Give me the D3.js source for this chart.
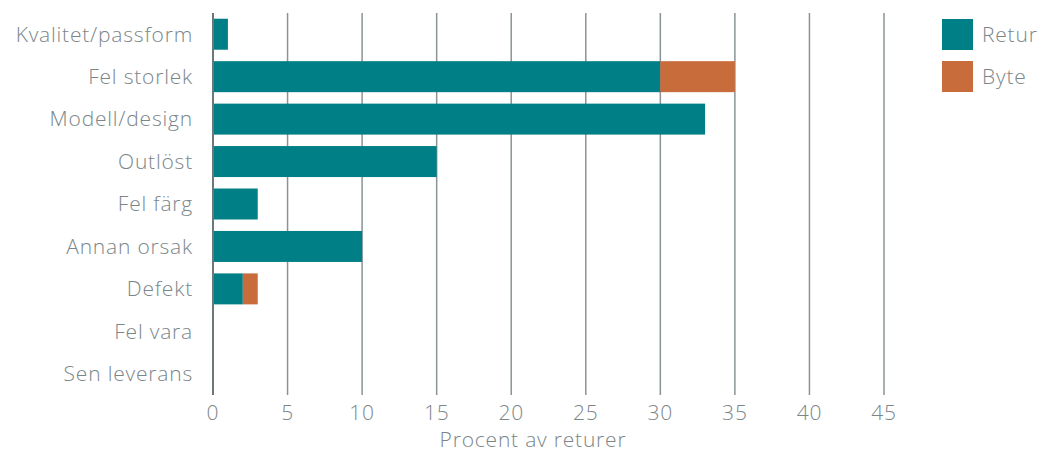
<!DOCTYPE html>
<html>
<head>
  <meta charset="utf-8">
  <script src="https://cdn.jsdelivr.net/npm/d3@7"></script>
  <style>
    body { margin: 0; background: #fff; }
    svg text { font-family: "Open Sans", Lato, sans-serif; font-weight: 300; fill: #7b8689; letter-spacing: 0.8px; }
  </style>
</head>
<body>
  <svg id="chart" width="1043" height="453"></svg>
  <script>
    var categories = ['Kvalitet/passform', 'Fel storlek', 'Modell/design', 'Outlöst', 'Fel färg', 'Annan orsak', 'Defekt', 'Fel vara', 'Sen leverans'];
    var retur = [1, 30, 33, 15, 3, 10, 2, 0, 0];
    var byte = [0, 5, 0, 0, 0, 0, 1, 0, 0];
    var ticks = [0, 5, 10, 15, 20, 25, 30, 35, 40, 45];
    var seriesNames = ['Retur', 'Byte'];
    var colors = ['#007f86', '#c96c3c'];

    var svg = d3.select('#chart');
    var plotLeft = 213, plotRight = 884, plotTop = 13, plotBottom = 395;

    var x = d3.scaleLinear().domain([0, 45]).range([plotLeft, plotRight]);
    var y = d3.scaleBand().domain(categories).range([plotTop, plotBottom]).paddingInner(0.27).paddingOuter(0.135);

    // gridlines
    svg.append('g').selectAll('line')
      .data(ticks.slice(1))
      .enter().append('line')
      .attr('x1', d => x(d)).attr('x2', d => x(d))
      .attr('y1', plotTop).attr('y2', plotBottom)
      .attr('stroke', '#8a9497').attr('stroke-width', 1.5);

    var rows = categories.map((c, i) => ({ cat: c, retur: retur[i], byte: byte[i] }));
    var stack = d3.stack().keys(['retur', 'byte'])(rows);

    svg.append('g').selectAll('g')
      .data(stack)
      .enter().append('g')
      .attr('fill', (d, i) => colors[i])
      .selectAll('rect')
      .data(d => d)
      .enter().append('rect')
      .attr('x', d => x(d[0]))
      .attr('width', d => x(d[1]) - x(d[0]))
      .attr('y', d => y(d.data.cat))
      .attr('height', y.bandwidth());

    // y axis line
    svg.append('line')
      .attr('x1', x(0)).attr('x2', x(0))
      .attr('y1', plotTop).attr('y2', plotBottom)
      .attr('stroke', '#6b7779').attr('stroke-width', 2);

    // category labels
    svg.append('g').selectAll('text')
      .data(categories)
      .enter().append('text')
      .attr('x', 193)
      .attr('y', d => y(d) + y.bandwidth() / 2)
      .attr('dy', '0.35em')
      .attr('text-anchor', 'end')
      .attr('font-size', 21)
      .text(d => d);

    // x tick labels
    svg.append('g').selectAll('text')
      .data(ticks)
      .enter().append('text')
      .attr('x', d => x(d))
      .attr('y', 413)
      .attr('dy', '0.35em')
      .attr('text-anchor', 'middle')
      .attr('font-size', 21)
      .text(d => d);

    svg.append('text')
      .attr('x', 533)
      .attr('y', 440)
      .attr('dy', '0.35em')
      .attr('text-anchor', 'middle')
      .attr('font-size', 21)
      .text('Procent av returer');

    // legend
    var legend = svg.append('g').selectAll('g')
      .data(seriesNames)
      .enter().append('g')
      .attr('transform', (d, i) => 'translate(942,' + (19 + i * 42) + ')');
    legend.append('rect').attr('width', 31).attr('height', 31).attr('fill', (d, i) => colors[i]);
    legend.append('text')
      .attr('x', 40).attr('y', 15.5).attr('dy', '0.35em')
      .attr('font-size', 21)
      .text(d => d);
  </script>
</body>
</html>
